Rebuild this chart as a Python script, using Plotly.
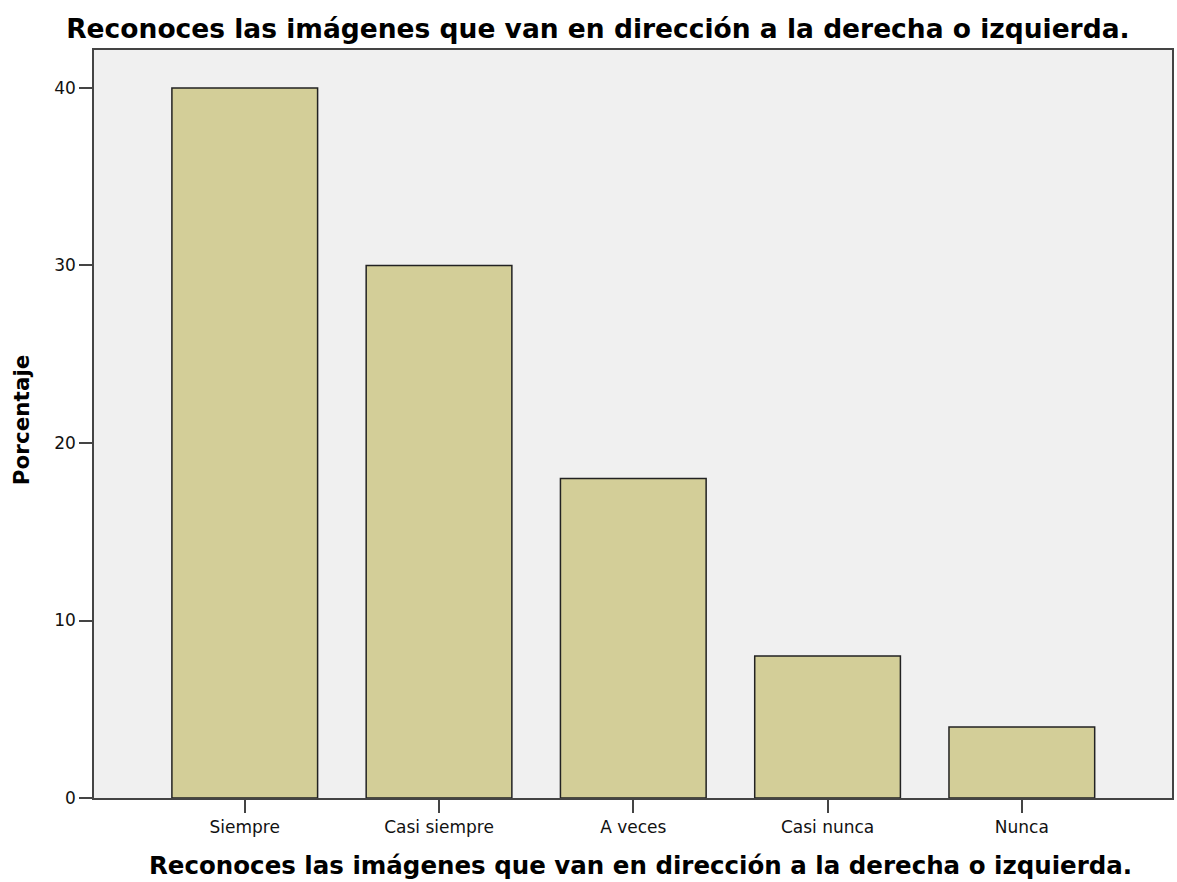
import plotly.graph_objects as go

categories = ["Siempre", "Casi siempre", "A veces", "Casi nunca", "Nunca"]
porcentaje = [40, 30, 18, 8, 4]
y_ticks = [0, 10, 20, 30, 40]
title_text = "Reconoces las imágenes que van en dirección a la derecha o izquierda."
y_title = "Porcentaje"

wide_font = "DejaVu Sans, Liberation Sans, Arial, sans-serif"

fig = go.Figure()
fig.add_trace(go.Bar(
    x=categories, y=porcentaje, width=0.75,
    marker=dict(color="#D3CE98", line=dict(color="#222222", width=1.5)),
))

fig.update_layout(
    width=1177, height=882,
    margin=dict(l=94, r=3, t=50, b=84),
    paper_bgcolor="white", plot_bgcolor="#F0F0F0",
    font=dict(family=wide_font, color="#111111"),
    title=dict(text="<b>" + title_text + "</b>", x=0.508, xanchor="center",
               y=0.967, yanchor="middle",
               font=dict(size=26.5, color="black", family=wide_font)),
    showlegend=False, bargap=0.25,
    annotations=[
        dict(text="<b>" + title_text + "</b>", xref="paper", yref="paper",
             x=0.5074, y=-0.0896, xanchor="center", yanchor="middle",
             showarrow=False, font=dict(size=24.5, color="black", family=wide_font)),
        dict(text="<b>" + y_title + "</b>", xref="paper", yref="paper",
             x=-0.0676, y=0.5053, xanchor="center", yanchor="middle",
             textangle=-90, showarrow=False,
             font=dict(size=21.5, color="black", family=wide_font)),
    ],
)
fig.update_xaxes(
    type="category", range=[-0.776, 4.773],
    showline=True, linecolor="#444444", linewidth=1.5, mirror=True,
    ticks="outside", ticklen=13, tickwidth=1.5, tickcolor="#444444",
    tickfont=dict(size=17), showgrid=False,
)
fig.update_yaxes(
    range=[0, 42.14], tickvals=y_ticks,
    showline=True, linecolor="#444444", linewidth=1.5, mirror=True,
    ticks="outside", ticklen=13, tickwidth=1.5, tickcolor="#444444",
    tickfont=dict(size=17), showgrid=False, zeroline=False,
)

fig.write_html("out.html", config={"displayModeBar": False},
               post_script="document.body.style.margin='0';")
